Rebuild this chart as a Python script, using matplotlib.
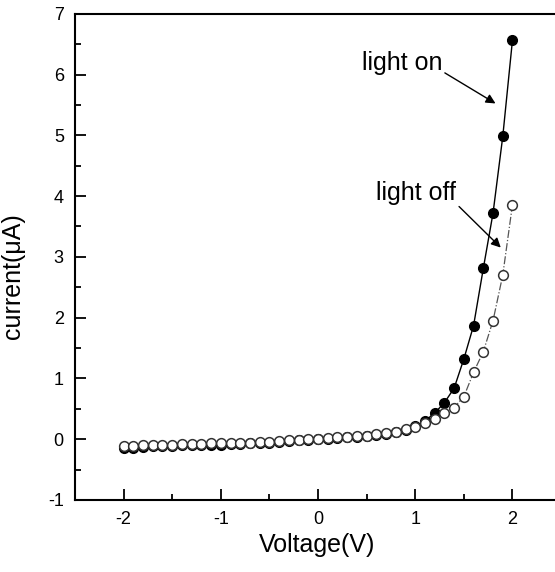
import numpy as np
import matplotlib
matplotlib.use("Agg")
import matplotlib.pyplot as plt
from matplotlib.ticker import MultipleLocator

plt.rcParams['font.family'] = ['Liberation Sans', 'DejaVu Sans']
plt.rcParams['axes.unicode_minus'] = False

# voltage sweep, 0.1 V steps
voltage = np.round(np.arange(-2.0, 2.01, 0.1), 1)

# light off (open circles)
current_off = [-0.12, -0.11, -0.10, -0.10, -0.09, -0.09, -0.08, -0.08, -0.08, -0.07,
               -0.07, -0.07, -0.06, -0.06, -0.05, -0.05, -0.03, -0.02, -0.01, 0.00,
               0.01, 0.02, 0.03, 0.04, 0.05, 0.06, 0.08, 0.10, 0.12, 0.16,
               0.20, 0.26, 0.33, 0.43, 0.52, 0.70, 1.10, 1.44, 1.95, 2.70,
               3.86]

# light on (filled circles)
current_on = [-0.15, -0.14, -0.13, -0.12, -0.11, -0.11, -0.10, -0.10, -0.09, -0.09,
              -0.09, -0.08, -0.08, -0.07, -0.07, -0.06, -0.04, -0.03, -0.02, -0.01,
              0.00, 0.01, 0.02, 0.03, 0.04, 0.05, 0.07, 0.09, 0.11, 0.15,
              0.21, 0.30, 0.43, 0.60, 0.84, 1.32, 1.87, 2.81, 3.72, 4.98,
              6.57]

fig = plt.figure(figsize=(5.55, 5.72), dpi=100)
ax = fig.add_axes([0.135, 0.126, 0.876, 0.85])

# light on: solid line + black dots
ax.plot(voltage, current_on, '-', color='black', lw=1.0, zorder=2)
ax.plot(voltage, current_on, 'o', ms=7, mfc='black', mec='black', zorder=3)

# light off: dash-dot line + open circles
ax.plot(voltage, current_off, '-.', color='#555555', lw=0.9, zorder=2)
ax.plot(voltage, current_off, 'o', ms=7, mfc='white', mec='#333333', mew=1.1, zorder=4)

ax.set_xlim(-2.5, 2.5)
ax.set_ylim(-1, 7)
ax.xaxis.set_major_locator(MultipleLocator(1))
ax.xaxis.set_minor_locator(MultipleLocator(0.5))
ax.yaxis.set_major_locator(MultipleLocator(1))
ax.yaxis.set_minor_locator(MultipleLocator(0.5))
ax.tick_params(which='major', direction='in', length=8, width=1.3, labelsize=13, pad=8)
ax.tick_params(which='minor', direction='in', length=4, width=1.3)
ax.tick_params(top=False, right=False, which='both')
for s in ax.spines.values():
    s.set_linewidth(1.5)

ax.set_xlabel("Voltage(V)", fontsize=18)
ax.set_ylabel("current(\u03bcA)", fontsize=18)
ax.xaxis.set_label_coords(0.498, -0.068)
ax.yaxis.set_label_coords(-0.103, 0.46)

ax.text(0.45, 6.0, "light on", fontsize=18, va='bottom')
ax.annotate("", xy=(1.85, 5.5), xytext=(1.28, 6.05),
            arrowprops=dict(arrowstyle='-|>', color='black', lw=1.0, mutation_scale=14))
ax.text(0.6, 3.85, "light off", fontsize=18, va='bottom')
ax.annotate("", xy=(1.9, 3.12), xytext=(1.43, 3.86),
            arrowprops=dict(arrowstyle='-|>', color='black', lw=1.0, mutation_scale=14))

plt.savefig("out.png", dpi=100)
